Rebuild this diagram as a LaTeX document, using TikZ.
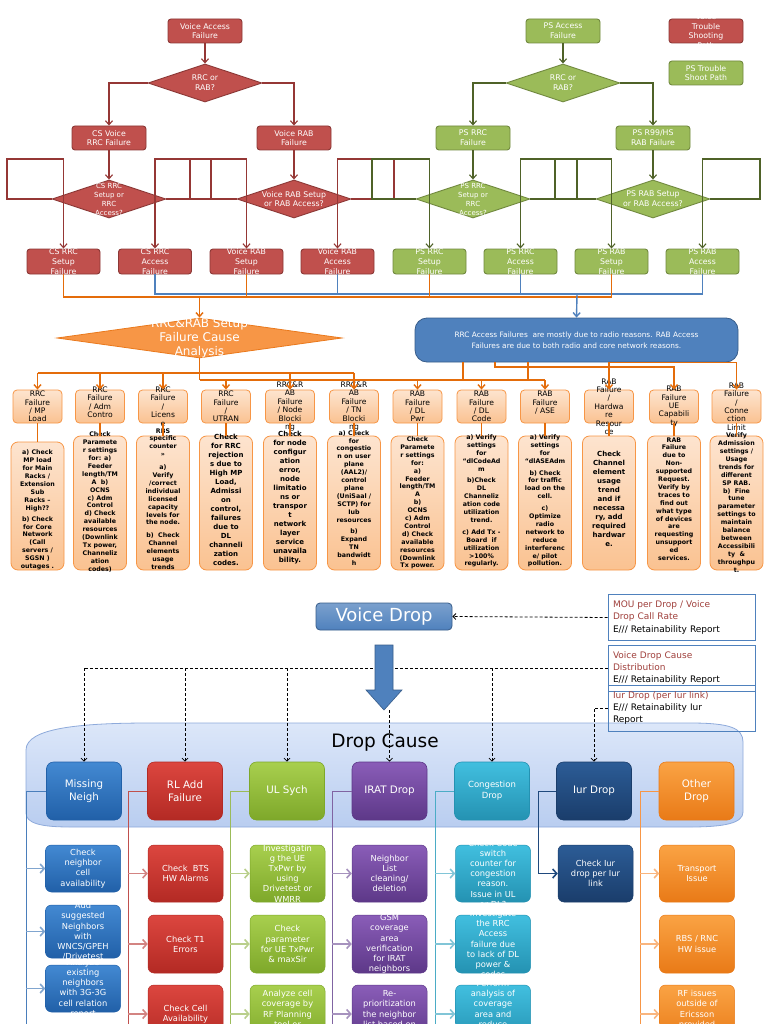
\documentclass[tikz,border=0pt]{standalone}
\usepackage{fontspec}
\setmainfont{DejaVu Sans}
\usetikzlibrary{arrows.meta,shapes.geometric}
\definecolor{vred}{HTML}{C0504D}
\definecolor{vredd}{HTML}{8C3836}
\definecolor{vredl}{HTML}{953735}
\definecolor{pgr}{HTML}{9BBB59}
\definecolor{pgrd}{HTML}{71893F}
\definecolor{pgrl}{HTML}{4F6228}
\definecolor{orl}{HTML}{E46C0A}
\definecolor{orf}{HTML}{F79646}
\definecolor{blf}{HTML}{4F81BD}
\definecolor{bld}{HTML}{385D8A}
\definecolor{hdt}{HTML}{FDE4CF}
\definecolor{hdb}{HTML}{FAC291}
\definecolor{infored}{HTML}{A0403C}
\definecolor{cont}{HTML}{DCE7F9}
\definecolor{conb}{HTML}{B9CDF0}
\definecolor{cond}{HTML}{8EAADB}
\definecolor{mnt}{HTML}{4389D2}
\definecolor{mnb}{HTML}{2160A8}
\definecolor{mnl}{HTML}{4A7EBB}
\definecolor{rlt}{HTML}{DC463F}
\definecolor{rlb}{HTML}{B32A24}
\definecolor{rll}{HTML}{C0504D}
\definecolor{ult}{HTML}{A8CF4E}
\definecolor{ulb}{HTML}{7EA82A}
\definecolor{ull}{HTML}{9BBB59}
\definecolor{irt}{HTML}{8A5DB8}
\definecolor{irb}{HTML}{5D3888}
\definecolor{irl}{HTML}{8064A2}
\definecolor{cgt}{HTML}{41BFDF}
\definecolor{cgb}{HTML}{2492B2}
\definecolor{cgl}{HTML}{4BACC6}
\definecolor{iut}{HTML}{2C5C96}
\definecolor{iub}{HTML}{1A3D6B}
\definecolor{iul}{HTML}{1F497D}
\definecolor{ott}{HTML}{FAA344}
\definecolor{otb}{HTML}{E97A17}
\definecolor{otl}{HTML}{F79646}
\tikzset{
 rb/.style={rounded corners=3pt, fill=vred, draw=vredd, line width=0.9pt, minimum width=74pt, minimum height=24pt, inner sep=0pt},
 gb/.style={rb, fill=pgr, draw=pgrd},
 rd/.style={diamond, fill=vred, draw=vredd, line width=0.9pt, minimum width=114pt, minimum height=38pt, inner sep=0pt},
 gd/.style={rd, fill=pgr, draw=pgrd},
 dtx/.style={text=white, font=\fontsize{7.8}{9.8}\selectfont, align=center, inner sep=0pt},
 rc/.style={draw=vredl, line width=1.1pt, -{Straight Barb[length=4pt,width=7pt]}},
 gc/.style={rc, draw=pgrl},
 ol/.style={draw=orl, line width=1.4pt},
 oa/.style={ol, -{Straight Barb[length=4pt,width=7pt]}},
 bl/.style={draw=blf, line width=1.4pt},
 ba/.style={bl, -{Straight Barb[length=4pt,width=7pt]}},
 hd/.style={rounded corners=4pt, top color=hdt, bottom color=hdb, draw=orf, line width=0.8pt, minimum width=49pt, minimum height=33pt, inner sep=0pt},
 htx/.style={font=\fontsize{7.6}{8.4}\selectfont, align=center, inner sep=0pt},
 db/.style={rounded corners=7pt, top color=hdt, bottom color=hdb, draw=orf, line width=0.8pt, minimum width=53pt, minimum height=134pt, inner sep=0pt},
 dsm/.style={font=\fontsize{6.3}{7.9}\selectfont\bfseries, align=center, inner sep=0pt},
 dlg/.style={font=\fontsize{7}{9}\selectfont\bfseries, align=center, inner sep=0pt},
 info/.style={draw=blf, line width=0.7pt, minimum width=147pt, minimum height=46pt, text width=137pt, inner xsep=5pt, inner ysep=0pt, align=left, font=\fontsize{9}{12.3}\selectfont},
 dsh/.style={draw=black, line width=0.8pt, dash pattern=on 3pt off 2pt},
 dsa/.style={dsh, -{Straight Barb[length=3pt,width=6pt]}},
 cb/.style={rounded corners=7pt, minimum width=75pt, minimum height=58pt, inner sep=0pt, text=white, align=center, font=\fontsize{10.3}{12.5}\selectfont, line width=0.6pt},
 sb/.style={rounded corners=6pt, minimum width=75pt, inner sep=0pt, line width=0.5pt},
 sbt/.style={text=white, align=center, inner sep=0pt, font=\fontsize{8.3}{10.2}\selectfont},
 br/.style={line width=1pt},
 bra/.style={line width=1.6pt, -{Straight Barb[length=4pt,width=9pt]}},
}
\newcommand{\tbx}[5]{\node[#2] (#1) at (#3,#4) {}; \node[dtx] at (#1) {#5};}
\newcommand{\mycol}[6]{%
 \node[hd] (h#1) at (#2,406.5) {};
 \node[htx] at (h#1) {#3};
 \node[db] (d#1) at (#2,503) {};
 \node[#5] at (#2,#4) {#6};
 \draw[ol] (h#1.south) -- (d#1.north);}
\newcommand{\mysub}[6]{\node[sb,#5,minimum height=#4pt] (#1) at (#2,#3) {}; \node[sbt] at (#1) {#6};}
\begin{document}
\begin{tikzpicture}[x=1pt,y=-1pt]
\useasboundingbox (0,0) rectangle (768,1024);
\fill[white] (0,0) rectangle (768,1024);
\clip (0,0) rectangle (768,1024);

% ---------- voice access (red)
\tbx{vaf}{rb}{205}{31}{Voice Access\\Failure}
\tbx{rr1}{rd}{205}{83}{RRC or\\RAB?}
\tbx{csv}{rb}{109}{138}{CS Voice\\RRC Failure}
\tbx{vrb}{rb}{294}{138}{Voice RAB\\Failure}
\node[rd] (csd) at (109,199) {};
\node[dtx,font=\fontsize{7}{9}\selectfont] at (csd) {CS RRC\\Setup or\\RRC\\Access?};
\tbx{vrd}{rd}{294}{199}{Voice RAB Setup\\or RAB Access?}
\tbx{s1}{rb,minimum width=73pt,minimum height=25pt}{63.5}{261.5}{CS RRC\\Setup\\Failure}
\tbx{a1}{rb,minimum width=73pt,minimum height=25pt}{155}{261.5}{CS RRC\\Access\\Failure}
\tbx{s2}{rb,minimum width=73pt,minimum height=25pt}{246.5}{261.5}{Voice RAB\\Setup\\Failure}
\tbx{a2}{rb,minimum width=73pt,minimum height=25pt}{337.5}{261.5}{Voice RAB\\Access\\Failure}
% legend
\tbx{lg1}{rb}{706}{31}{Voice\\Trouble\\Shooting\\Path}
\tbx{lg2}{gb}{706}{73}{PS Trouble\\Shoot Path}
% ---------- PS access (green)
\tbx{paf}{gb}{563}{31}{PS Access\\Failure}
\tbx{rr2}{gd}{563}{83}{RRC or\\RAB?}
\tbx{psr}{gb}{473}{138}{PS RRC\\Failure}
\tbx{psb}{gb}{653}{138}{PS R99/HS\\RAB Failure}
\node[gd] (psd) at (473,199) {};
\node[dtx,font=\fontsize{7}{9}\selectfont] at (psd) {PS RRC\\Setup or\\RRC\\Access?};
\tbx{pbd}{gd}{653}{199}{PS RAB Setup\\or RAB Access?}
\tbx{s3}{gb,minimum width=73pt,minimum height=25pt}{429.5}{261.5}{PS RRC\\Setup\\Failure}
\tbx{a3}{gb,minimum width=73pt,minimum height=25pt}{520.5}{261.5}{PS RRC\\Access\\Failure}
\tbx{s4}{gb,minimum width=73pt,minimum height=25pt}{611.5}{261.5}{PS RAB\\Setup\\Failure}
\tbx{a4}{gb,minimum width=73pt,minimum height=25pt}{702.5}{261.5}{PS RAB\\Access\\Failure}

% connectors red
\draw[rc] (vaf.south) -- (rr1.north);
\draw[rc] (rr1.west) -| (csv.north);
\draw[rc] (rr1.east) -| (vrb.north);
\draw[rc] (csv.south) -- (csd.north);
\draw[rc] (vrb.south) -- (vrd.north);
\draw[rc] (csd.west) -| (7,159) -| (s1.north);
\draw[rc] (csd.east) -| (211,159) -| (a1.north);
\draw[rc] (vrd.west) -| (190,159) -| (s2.north);
\draw[rc] (vrd.east) -| (394,159) -| (a2.north);
% connectors green
\draw[gc] (paf.south) -- (rr2.north);
\draw[gc] (rr2.west) -| (psr.north);
\draw[gc] (rr2.east) -| (psb.north);
\draw[gc] (psr.south) -- (psd.north);
\draw[gc] (psb.south) -- (pbd.north);
\draw[gc] (psd.west) -| (372,159) -| (s3.north);
\draw[gc] (psd.east) -| (577,159) -| (a3.north);
\draw[gc] (pbd.west) -| (555,159) -| (s4.north);
\draw[gc] (pbd.east) -| (760,159) -| (a4.north);

% ---------- cause analysis
\node[diamond, fill=orf, draw=orl!70!orf, line width=0.8pt, minimum width=285pt, minimum height=40pt, inner sep=0pt] (cfa) at (199.5,338) {};
\node[text=white, font=\fontsize{12}{14}\selectfont, align=center, inner sep=0pt] at (cfa) {RRC\&RAB Setup\\Failure Cause\\Analysis};
\node[fill=blf, draw=bld, line width=0.8pt, rounded corners=12pt, minimum width=323pt, minimum height=44pt, inner sep=0pt, text=white, font=\fontsize{7.4}{10.8}\selectfont, align=center] (note) at (576.5,340) {RRC Access Failures~ are mostly due to radio reasons. RAB Access\\Failures are due to both radio and core network reasons.};

\coordinate (ob) at (199.5,297);
\coordinate (bb) at (577,294);
\draw[bl] (a1.south) |- (a4.south |- bb) -- (a4.south);
\draw[bl] (a2.south) -- (a2.south |- bb);
\draw[bl] (a3.south) -- (a3.south |- bb);
\draw[ol] (s1.south) |- (s4.south |- ob) -- (s4.south);
\draw[ol] (s2.south) -- (s2.south |- ob);
\draw[ol] (s3.south) -- (s3.south |- ob);
\draw[oa] (ob) -- (cfa.north);
\draw[ba] (bb) -- (note.north);

% ---------- columns
\node[hd] (h1) at (37.5,406.5) {};
\node[htx] at (h1) {RRC\\Failure\\/ MP\\Load};
\node[db,minimum height=128pt] (d1) at (37.5,506) {};
\node[dsm] at (37.5,510) {a) Check\\MP load\\for Main\\Racks /\\Extension\\Sub\\Racks –\\High??\\[3pt]b) Check\\for Core\\Network\\(Call\\servers /\\SGSN )\\outages .};
\draw[ol] (h1.south) -- (d1.north);
\mycol{2}{100}{RRC\\Failure\\/ Adm\\Contro\\\mbox{}}{502}{dsm}{Check\\Paramete\\r settings\\for: a)\\Feeder\\length/TM\\A~ b)\\OCNS\\c) Adm\\Control\\d) Check\\available\\resources\\(Downlink\\Tx power,\\Channeliz\\ation\\codes)}
\mycol{3}{163}{RRC\\Failure\\/\\Licens\\e}{499}{dsm}{RBS\\specific\\counter\\>>\\[5pt]a)\\Verify\\/correct\\individual\\licensed\\capacity\\levels for\\the node.\\[5pt]b)~ Check\\Channel\\elements\\usage\\trends}
\mycol{4}{226}{RRC\\Failure\\/\\UTRAN}{500}{dlg}{Check\\for RRC\\rejection\\s due to\\High MP\\Load,\\Admissi\\on\\control,\\failures\\due to\\DL\\channeli\\zation\\codes.}
\mycol{5}{290}{RRC\&R\\AB\\Failure\\/ Node\\Blocki\\ng}{498}{dlg}{Check\\for node\\configur\\ation\\error,\\node\\limitatio\\ns or\\transpor\\t\\network\\layer\\service\\unavaila\\bility.}
\mycol{6}{354}{RRC\&R\\AB\\Failure\\/ TN\\Blocki\\ng}{498}{dsm}{a) Check\\for\\congestio\\n on user\\plane\\(AAL2)/\\control\\plane\\(UniSaal /\\SCTP) for\\Iub\\resources\\[4pt]b)\\Expand\\TN\\bandwidt\\h}
\mycol{7}{417.5}{RAB\\Failure\\/ DL\\Pwr}{503}{dsm}{Check\\Paramete\\r settings\\for:\\a)\\Feeder\\length/TM\\A\\b)\\OCNS\\c) Adm\\Control\\d) Check\\available\\resources\\(Downlink\\Tx power.}
\mycol{8}{481.5}{RAB\\Failure\\/ DL\\Code}{501}{dsm}{a) Verify\\settings\\for\\“dlCodeAd\\m\\[4pt]b)Check\\DL\\Channeliz\\ation code\\utilization\\trend.\\[4pt]c) Add Tx -\\Board~ if\\utilization\\>100\%\\regularly.}
\mycol{9}{545}{RAB\\Failure\\/ ASE\\\mbox{}}{501}{dsm}{a) Verify\\settings\\for\\“dlASEAdm\\[4pt]b) Check\\for traffic\\load on the\\cell.\\[4pt]c)\\Optimize\\radio\\network to\\reduce\\interferenc\\e/ pilot\\pollution.}
\mycol{10}{609}{RAB\\Failure\\/\\Hardwa\\re\\Resour\\ce}{498.5}{dlg}{Check\\Channel\\element\\usage\\trend\\and if\\necessa\\ry, add\\required\\hardwar\\e.}
\mycol{11}{674}{RAB\\Failure\\UE\\Capabili\\ty}{499}{dsm}{RAB\\Failure\\due to\\Non-\\supported\\Request.\\Verify by\\traces to\\find out\\what type\\of devices\\are\\requesting\\unsupport\\ed\\services.}
\mycol{12}{736.5}{RAB\\Failure\\/\\Conne\\ction\\Limit}{502.5}{dsm}{Verify\\Admission\\settings /\\Usage\\trends for\\different\\SP RAB.\\b)~ Fine\\tune\\parameter\\settings to\\maintain\\balance\\between\\Accessibili\\ty~ \&\\throughpu\\t.}

% bus lines to headers
\coordinate (j1) at (199.5,373);
\coordinate (j2) at (199.5,380);
\draw[ol] (cfa.south) -- (j2);
\draw[ol] (h1.north |- j1) -- (h6.north |- j1);
\foreach \n in {h1,h2,h3,h5,h6} \draw[oa] (\n.north |- j1) -- (\n.north);
\draw[ol] (j2) -- (h9.north |- j2);
\foreach \n in {h4,h7,h8,h9} \draw[oa] (\n.north |- j2) -- (\n.north);
\draw[ol] (463,0 |- note.south) -- (463,0 |- j2);
\draw[ol] (528,0 |- note.south) -- (528,0 |- j2);
\draw[oa] (h10.north |- note.south) -- (h10.north);
\draw[oa] (495,0 |- note.south) -- (495,367) -| (h11.north);
\draw[oa] (h10.north |- note.south) -| (h12.north);

% ---------- voice drop section
\path[draw=cond, line width=0.8pt, top color=cont, bottom color=conb] (26,750) .. controls (26,728) and (80,723) .. (150,723) -- (690,723) .. controls (730,723) and (743,728) .. (743,742) -- (743,812) .. controls (743,823) and (725,827) .. (690,827) -- (70,827) .. controls (40,827) and (26,823) .. (26,813) -- cycle;
\node[font=\fontsize{18.5}{20}\selectfont, inner sep=0pt] (dct) at (385,743) {Drop Cause};

\node[cb, top color=mnt, bottom color=mnb, draw=mnb] (mn) at (84,791) {Missing\\Neigh};
\node[cb, top color=rlt, bottom color=rlb, draw=rlb] (rl) at (185,791) {RL Add\\Failure};
\node[cb, top color=ult, bottom color=ulb, draw=ulb] (ul) at (287,791) {UL Sych};
\node[cb, top color=irt, bottom color=irb, draw=irb] (ir) at (389.5,791) {IRAT Drop};
\node[cb, top color=cgt, bottom color=cgb, draw=cgb, font=\fontsize{8.5}{11}\selectfont] (cg) at (492,791) {Congestion\\Drop};
\node[cb, top color=iut, bottom color=iub, draw=iub] (iu) at (594,791) {Iur Drop};
\node[cb, top color=ott, bottom color=otb, draw=otb] (ot) at (696.5,791) {Other\\Drop};

\node[info, fill=white] (i1) at (681.5,617.5) {{\color{infored}MOU per Drop / Voice}\\{\color{infored}Drop Call Rate}\\E/// Retainability Report};
\node[info, fill=white] (i2) at (681.5,668) {{\color{infored}Voice Drop Cause}\\{\color{infored}Distribution}\\E/// Retainability Report};
\node[info] (i3) at (681.5,708) {{\color{infored}Iur Drop (per Iur link)}\\E/// Retainability Iur\\Report};

\node[rounded corners=4pt, top color=blf!75!white, bottom color=blf, draw=bld, line width=0.8pt, minimum width=136pt, minimum height=27pt, inner sep=0pt, text=white, font=\fontsize{18}{20}\selectfont] (vd) at (384,616.5) {Voice Drop};

\draw[dsa] (i1.west) -- (vd.east);
\draw[dsh] (i2.west) -- (mn.north |- i2.west);
\foreach \n in {mn,rl,ul,cg} \draw[dsa] (\n.north |- i2.west) -- (\n.north);
\draw[dsa] (i3.west) -| (iu.north);

\path[fill=blf, draw=bld, line width=0.6pt] (375,645) -- (393,645) -- (393,690) -- (402,690) -- (384,710) -- (366,690) -- (375,690) -- cycle;
\coordinate (tip) at (384,710);
\draw[dsa] (ir.north |- tip) -- (ir.north);

% sub boxes
\mysub{m1}{83}{868.5}{47}{top color=mnt,bottom color=mnb,draw=mnb}{Check\\neighbor\\cell\\availability}
\mysub{m2}{83}{931.5}{53}{top color=mnt,bottom color=mnb,draw=mnb}{Add\\suggested\\Neighbors\\with\\WNCS/GPEH\\/Drivetest}
\mysub{m3}{83}{988.5}{47}{top color=mnt,bottom color=mnb,draw=mnb}{Analyze\\existing\\neighbors\\with 3G-3G\\cell relation\\report}
\mysub{r1}{185.5}{873.5}{57}{top color=rlt,bottom color=rlb,draw=rlb}{Check~ BTS\\HW Alarms}
\mysub{r2}{185.5}{944}{58}{top color=rlt,bottom color=rlb,draw=rlb}{Check T1\\Errors}
\mysub{r3}{185.5}{1014}{58}{top color=rlt,bottom color=rlb,draw=rlb}{Check Cell\\Availability}
\mysub{u1}{287.5}{873.5}{57}{top color=ult,bottom color=ulb,draw=ulb}{Investigatin\\g the UE\\TxPwr by\\using\\Drivetest or\\WMRR}
\mysub{u2}{287.5}{944}{58}{top color=ult,bottom color=ulb,draw=ulb}{Check\\parameter\\for UE TxPwr\\\& maxSir}
\mysub{u3}{287.5}{1014}{58}{top color=ult,bottom color=ulb,draw=ulb}{Analyze cell\\coverage by\\RF Planning\\tool or\\\mbox{}}
\mysub{q1}{389.5}{873.5}{57}{top color=irt,bottom color=irb,draw=irb}{Neighbor\\List\\cleaning/\\deletion}
\mysub{q2}{389.5}{944}{58}{top color=irt,bottom color=irb,draw=irb}{GSM\\coverage\\area\\verification\\for IRAT\\neighbors}
\mysub{q3}{389.5}{1014}{58}{top color=irt,bottom color=irb,draw=irb}{Re-\\prioritization\\the neighbor\\list based on\\\mbox{}}
\mysub{c1}{493}{873.5}{57}{top color=cgt,bottom color=cgb,draw=cgb}{Check Code\\switch\\counter for\\congestion\\reason.\\Issue in UL\\or DL?}
\mysub{c2}{493}{944}{58}{top color=cgt,bottom color=cgb,draw=cgb}{Investigate\\the RRC\\Access\\failure due\\to lack of DL\\power \&\\codes}
\mysub{c3}{493}{1014}{58}{top color=cgt,bottom color=cgb,draw=cgb}{Perform\\analysis of\\coverage\\area and\\reduce\\\mbox{}\\\mbox{}}
\mysub{v1}{595.5}{873.5}{57}{top color=iut,bottom color=iub,draw=iub}{Check Iur\\drop per Iur\\link}
\mysub{o1}{697}{873.5}{57}{top color=ott,bottom color=otb,draw=otb}{Transport\\Issue}
\mysub{o2}{697}{944}{58}{top color=ott,bottom color=otb,draw=otb}{RBS / RNC\\HW issue}
\mysub{o3}{697}{1014}{58}{top color=ott,bottom color=otb,draw=otb}{RF issues\\outside of\\Ericsson\\provided\\\mbox{}}

% branch lines
\draw[br,draw=mnl] (mn.west) -| (26,1030);
\draw[br,draw=rll] (rl.west) -| (128,1030);
\draw[br,draw=ull] (ul.west) -| (230,1030);
\draw[br,draw=irl] (ir.west) -| (332,1030);
\draw[br,draw=cgl] (cg.west) -| (435,1030);
\draw[br,draw=otl] (ot.west) -| (640,1030);
\foreach \n in {m1,m2,m3} \draw[bra,draw=mnl!70!white] (26,0 |- \n.west) -- (\n.west);
\foreach \n in {r1,r2,r3} \draw[bra,draw=rll!70!white] (128,0 |- \n.west) -- (\n.west);
\foreach \n in {u1,u2,u3} \draw[bra,draw=ull!70!white] (230,0 |- \n.west) -- (\n.west);
\foreach \n in {q1,q2,q3} \draw[bra,draw=irl!70!white] (332,0 |- \n.west) -- (\n.west);
\foreach \n in {c1,c2,c3} \draw[bra,draw=cgl!70!white] (435,0 |- \n.west) -- (\n.west);
\foreach \n in {o1,o2,o3} \draw[bra,draw=otl!70!white] (640,0 |- \n.west) -- (\n.west);
\draw[br,draw=iul] (iu.west) -| (538,0 |- v1.west);
\draw[bra,draw=iul] (538,0 |- v1.west) -- (v1.west);
\end{tikzpicture}
\end{document}
